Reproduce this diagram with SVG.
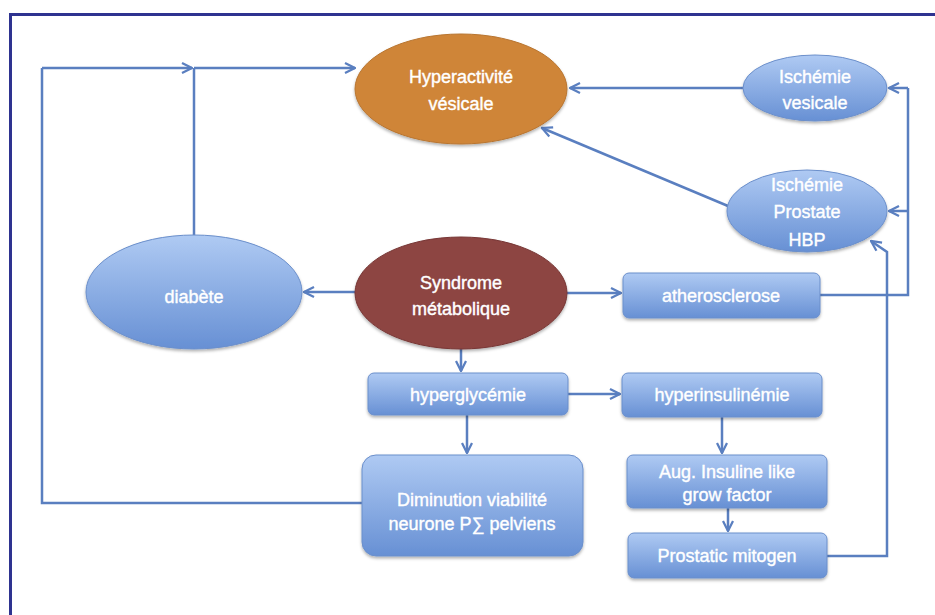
<svg xmlns="http://www.w3.org/2000/svg" width="935" height="615" viewBox="0 0 935 615">
<defs>
<linearGradient id="blue" x1="0" y1="0" x2="0" y2="1">
<stop offset="0" stop-color="#afcaf3"/>
<stop offset="1" stop-color="#6790d4"/>
</linearGradient>
<filter id="sh" x="-20%" y="-20%" width="140%" height="150%">
<feDropShadow dx="0" dy="2" stdDeviation="1.5" flood-color="#000" flood-opacity="0.3"/>
</filter>
<marker id="arr" viewBox="0 0 10 10" refX="9" refY="5" markerWidth="5" markerHeight="5" markerUnits="strokeWidth" orient="auto">
<path d="M1,1 L9,5 L1,9" fill="none" stroke="#5a7fc0" stroke-width="1.8"/>
</marker>
<style>
.c{fill:none;stroke:#5a7fc0;stroke-width:2.5;stroke-linejoin:miter}
.a{marker-end:url(#arr)}
.b{fill:url(#blue);stroke:#6b8fcb;stroke-width:1;filter:url(#sh)}
.t{fill:#ffffff;stroke:#ffffff;stroke-width:0.4;font-family:"Liberation Sans",Arial,sans-serif;font-size:18px;text-anchor:middle}
</style>
</defs>
<rect x="0" y="0" width="935" height="615" fill="#ffffff"/>
<path d="M10.5,615 V14.5 H935" fill="none" stroke="#2e3390" stroke-width="3"/>
<g id="connectors">
<path class="c a" d="M355,292 H304"/>
<path class="c a" d="M567,293 H621"/>
<path class="c a" d="M461,349 V371"/>
<path class="c a" d="M568,394 H620"/>
<path class="c a" d="M467,415 V453"/>
<path class="c a" d="M722,417 V453"/>
<path class="c a" d="M728,508 V531"/>
<path class="c a" d="M827,556 H887 V252 L871,241"/>
<path class="c" d="M820,295 H908 V88"/>
<path class="c a" d="M908,88 H889"/>
<path class="c a" d="M908,211 H889"/>
<path class="c a" d="M743,88 H570"/>
<path class="c a" d="M728,206 L542,128"/>
<path class="c" d="M194,235 V68"/>
<path class="c a" d="M194,68 H355"/>
<path class="c" d="M362,503 H42 V68"/>
<path class="c a" d="M42,68 H192"/>
</g>
<g id="hyperactivite">
<ellipse cx="461" cy="89" rx="106" ry="55" fill="#cf8539" stroke="#b87530" stroke-width="1" filter="url(#sh)"/>
<text class="t" x="461" y="83">Hyperactivité</text>
<text class="t" x="461" y="110">vésicale</text>
</g>
<g id="ischemie-vesicale">
<ellipse class="b" cx="815" cy="88" rx="72" ry="33"/>
<text class="t" x="815" y="83">Ischémie</text>
<text class="t" x="815" y="109">vesicale</text>
</g>
<g id="ischemie-prostate">
<ellipse class="b" cx="807" cy="211" rx="80" ry="41"/>
<text class="t" x="807" y="191">Ischémie</text>
<text class="t" x="807" y="218">Prostate</text>
<text class="t" x="807" y="246">HBP</text>
</g>
<g id="diabete">
<ellipse class="b" cx="194" cy="292" rx="108" ry="57"/>
<text class="t" x="194" y="303">diabète</text>
</g>
<g id="syndrome">
<ellipse cx="461" cy="293" rx="106" ry="56" fill="#8d4442" stroke="#773735" stroke-width="1" filter="url(#sh)"/>
<text class="t" x="461" y="289">Syndrome</text>
<text class="t" x="461" y="315">métabolique</text>
</g>
<g id="atherosclerose">
<rect class="b" x="623" y="273" width="197" height="45" rx="6"/>
<text class="t" x="721" y="302">atherosclerose</text>
</g>
<g id="hyperglycemie">
<rect class="b" x="368" y="373" width="200" height="42" rx="6"/>
<text class="t" x="468" y="401">hyperglycémie</text>
</g>
<g id="hyperinsulinemie">
<rect class="b" x="622" y="373" width="200" height="44" rx="6"/>
<text class="t" x="722" y="401">hyperinsulinémie</text>
</g>
<g id="diminution">
<rect class="b" x="362" y="455" width="221" height="101" rx="14"/>
<text class="t" x="472" y="506">Diminution viabilité</text>
<text class="t" x="472" y="530">neurone P∑ pelviens</text>
</g>
<g id="aug-insuline">
<rect class="b" x="627" y="455" width="200" height="53" rx="6"/>
<text class="t" x="727" y="478">Aug. Insuline like</text>
<text class="t" x="727" y="501">grow factor</text>
</g>
<g id="prostatic-mitogen">
<rect class="b" x="628" y="533" width="199" height="45" rx="6"/>
<text class="t" x="727" y="562">Prostatic mitogen</text>
</g>
</svg>
